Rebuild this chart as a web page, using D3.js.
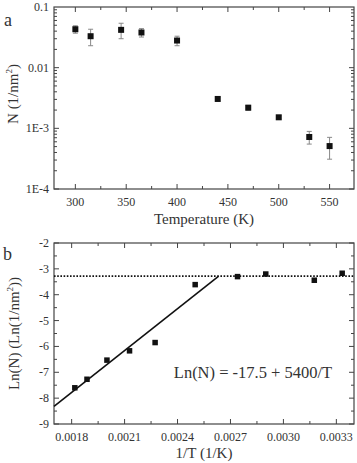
<!DOCTYPE html>
<html><head><meta charset="utf-8">
<script src="https://cdn.jsdelivr.net/npm/d3@7"></script>
<style>
html,body{margin:0;padding:0;background:#fff;}
</style></head>
<body><svg id="c" width="357" height="463" font-family="'Liberation Serif', 'Times New Roman', Times, 'DejaVu Serif', serif"></svg>
<script>
// Panel a data
const tempK = [300, 315, 345, 365, 400, 440, 470, 500, 530, 550];
const densityN = [0.043, 0.033, 0.042, 0.038, 0.028, 0.00305, 0.00219, 0.00152, 0.00072, 0.00051];
const densityErr = [0.006, 0.010, 0.012, 0.006, 0.005, 0.0002, 0.0002, 0.0001, 0.00017, 0.0002];
const aXTicks = [300, 350, 400, 450, 500, 550];
const aYTicks = [0.1, 0.01, 0.001, 0.0001];
const aYTickLabels = ["0.1", "0.01", "1E-3", "1E-4"];
// Panel b data
const invT = [0.001818, 0.001887, 0.002, 0.002128, 0.002273, 0.0025, 0.00274, 0.0029, 0.003175, 0.003333];
const lnN = [-7.6, -7.27, -6.53, -6.17, -5.85, -3.61, -3.3, -3.2, -3.44, -3.17];
const bXTicks = [0.0018, 0.0021, 0.0024, 0.0027, 0.0030, 0.0033];
const bYTicks = [-2, -3, -4, -5, -6, -7, -8, -9];
const fitIntercept = -17.5, fitSlope = 5400;
const plateau = -3.28;

const FONT = "'Liberation Serif', 'Times New Roman', Times, 'DejaVu Serif', serif";
const svg = d3.select("#c");
const axisColor = "#444";
const textColor = "#333";

function txt(g, xx, yy, size, anchor){
  return g.append("text").attr("x",xx).attr("y",yy).attr("font-size",size)
    .attr("text-anchor",anchor||"start").attr("font-family",FONT).attr("fill",textColor);
}
function frame(g, x0, x1, y0, y1){
  g.append("rect").attr("x",x0).attr("y",y0).attr("width",x1-x0).attr("height",y1-y0)
   .attr("fill","none").attr("stroke",axisColor).attr("stroke-width",1.2);
}
function tick(g, x1, y1, x2, y2){
  g.append("line").attr("x1",x1).attr("y1",y1).attr("x2",x2).attr("y2",y2)
   .attr("stroke",axisColor).attr("stroke-width",1);
}

// ---------- Panel a ----------
{
  const L=54, R=354, T=7, B=189;
  const x = d3.scaleLinear().domain([279, 574]).range([L, R]);
  const y = d3.scaleLog().domain([0.0001, 0.1]).range([B, T]);
  const g = svg.append("g");
  const xMinor = d3.range(275, 575, 25).filter(v => v>x.domain()[0] && v<x.domain()[1]);
  xMinor.forEach(v=>{
    const major = aXTicks.includes(v);
    const len = major?5:3;
    tick(g, x(v), B, x(v), B-len);
    tick(g, x(v), T, x(v), T+len);
  });
  for(let e=-4; e<=-2; e++){
    for(let m=1; m<=9; m++){
      const v = m*Math.pow(10,e);
      const len = m===1?5:3;
      tick(g, L, y(v), L+len, y(v));
      tick(g, R, y(v), R-len, y(v));
    }
  }
  frame(g, L, R, T, B);
  aXTicks.forEach(v=>{ txt(g, x(v), B+17, 12, "middle").text(v); });
  aYTicks.forEach((v,i)=>{ txt(g, L-5, y(v)+4, 12, "end").text(aYTickLabels[i]); });
  tempK.forEach((t,i)=>{
    const yt = y(densityN[i]+densityErr[i]), yb = y(densityN[i]-densityErr[i]);
    const cx = x(t);
    g.append("line").attr("x1",cx).attr("x2",cx).attr("y1",yt).attr("y2",yb).attr("stroke","#888").attr("stroke-width",1);
    g.append("line").attr("x1",cx-2.5).attr("x2",cx+2.5).attr("y1",yt).attr("y2",yt).attr("stroke","#888").attr("stroke-width",1);
    g.append("line").attr("x1",cx-2.5).attr("x2",cx+2.5).attr("y1",yb).attr("y2",yb).attr("stroke","#888").attr("stroke-width",1);
  });
  const s=6;
  g.selectAll("rect.pt").data(tempK).enter().append("rect").attr("class","pt")
   .attr("x",(d)=>x(d)-s/2).attr("y",(d,i)=>y(densityN[i])-s/2).attr("width",s).attr("height",s)
   .attr("fill","#111");
  txt(g, (L+R)/2, B+35, 15, "middle").text("Temperature (K)");
  const yl = g.append("text").attr("transform",`translate(18,${(T+B)/2-4}) rotate(-90)`)
    .attr("text-anchor","middle").attr("font-size",15).attr("font-family",FONT).attr("fill",textColor);
  yl.append("tspan").text("N (1/nm");
  yl.append("tspan").attr("font-size",9).attr("dy",-6).text("2");
  yl.append("tspan").attr("dy",6).text(")");
  txt(g, 4, 26, 18).text("a");
}

// ---------- Panel b ----------
{
  const L=54, R=354, T=243, B=424;
  const x = d3.scaleLinear().domain([0.0017, 0.0034]).range([L, R]);
  const y = d3.scaleLinear().domain([-9, -2]).range([B, T]);
  const g = svg.append("g");
  const xMinor = d3.range(0, 12).map(i=>0.00165+i*0.00015).filter(v=>v>x.domain()[0]+1e-9 && v<x.domain()[1]-1e-9);
  xMinor.forEach(v=>{
    const major = bXTicks.some(t=>Math.abs(t-v)<1e-8);
    const len = major?5:3;
    tick(g, x(v), B, x(v), B-len);
    tick(g, x(v), T, x(v), T+len);
  });
  d3.range(-9, -1.9, 0.5).forEach(v=>{
    const major = Math.abs(v-Math.round(v))<1e-9;
    const len = major?5:3;
    tick(g, L, y(v), L+len, y(v));
    tick(g, R, y(v), R-len, y(v));
  });
  frame(g, L, R, T, B);
  bXTicks.forEach(v=>{ txt(g, x(v), B+17, 12, "middle").text(v.toFixed(4)); });
  bYTicks.forEach(v=>{ txt(g, L-5, y(v)+4, 12, "end").text(v); });
  g.append("line").attr("x1",L).attr("x2",R).attr("y1",y(plateau)).attr("y2",y(plateau))
   .attr("stroke","#111").attr("stroke-width",1.6).attr("stroke-dasharray","1.6,1.6");
  const xEnd = (plateau - fitIntercept)/fitSlope;
  const fitPts = [x.domain()[0], xEnd];
  g.append("path").attr("d", d3.line().x(d=>x(d)).y(d=>y(fitIntercept+fitSlope*d))(fitPts))
   .attr("stroke","#111").attr("stroke-width",1.6).attr("fill","none");
  const s=5.5;
  g.selectAll("rect.pt").data(invT).enter().append("rect").attr("class","pt")
   .attr("x",d=>x(d)-s/2).attr("y",(d,i)=>y(lnN[i])-s/2).attr("width",s).attr("height",s)
   .attr("fill","#111");
  txt(g, 253, 378, 16.5, "middle").text("Ln(N) = -17.5 + 5400/T");
  txt(g, (L+R)/2, B+34, 15, "middle").text("1/T (1/K)");
  const yl = g.append("text").attr("transform",`translate(19,${(T+B)/2}) rotate(-90)`)
    .attr("text-anchor","middle").attr("font-size",15).attr("font-family",FONT).attr("fill",textColor);
  yl.append("tspan").text("Ln(N) (Ln(1/nm");
  yl.append("tspan").attr("font-size",9).attr("dy",-6).text("2");
  yl.append("tspan").attr("dy",6).text("))");
  txt(g, 3, 260, 18).text("b");
}
</script></body></html>
